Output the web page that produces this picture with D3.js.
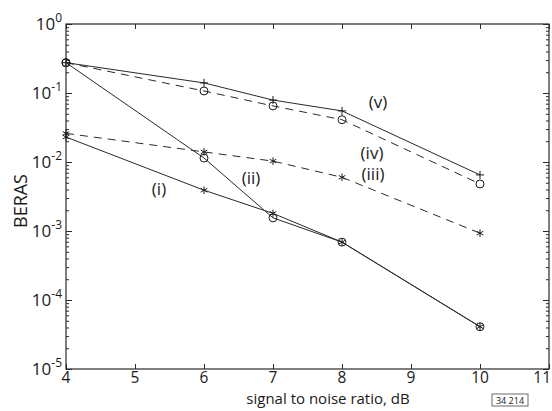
<!DOCTYPE html>
<html>
<head>
<meta charset="utf-8">
<script src="https://cdn.jsdelivr.net/npm/d3@7"></script>
<style>
  body { margin: 0; background: #fff; }
  svg { display: block; }
  text { font-family: "Open Sans", "DejaVu Sans", sans-serif; fill: #1a1a1a; }
  .line { fill: none; stroke: #2a2a2a; stroke-width: 1; }
  .dashed { stroke-dasharray: 8 6; }
  .mark { fill: none; stroke: #1a1a1a; stroke-width: 1; }
</style>
</head>
<body>
<svg id="chart"></svg>
<script>
const snr = [4, 6, 7, 8, 10];

const curveV = [0.275, 0.14, 0.079, 0.055, 0.0065];
const curveIV = [0.275, 0.107, 0.065, 0.041, 0.0048];
const curveIII = [0.026, 0.014, 0.0103, 0.006, 0.00093];
const curveII = [0.275, 0.0114, 0.00155, 0.00069, 0.000041];
const curveI = [0.023, 0.0039, 0.0018, 0.00069, 0.000041];

const xTicks = [4, 5, 6, 7, 8, 9, 10, 11];
const yExponents = [0, -1, -2, -3, -4, -5];

const width = 552;
const height = 411;
const plotLeft = 66, plotRight = 549, plotTop = 24, plotBottom = 369;

const svg = d3.select('#chart')
  .attr('width', width)
  .attr('height', height);

const x = d3.scaleLinear().domain([4, 11]).range([plotLeft, plotRight]);
const y = d3.scaleLog().domain([1e-5, 1]).range([plotBottom, plotTop]);

// frame
svg.append('rect')
  .attr('x', plotLeft).attr('y', plotTop)
  .attr('width', plotRight - plotLeft).attr('height', plotBottom - plotTop)
  .attr('fill', 'none').attr('stroke', '#2a2a2a').attr('stroke-width', 1.2);

// ticks pointing inward on all sides
const minorY = [];
yExponents.slice(0, -1).forEach(e => {
  for (let k = 2; k <= 9; k++) minorY.push(k * Math.pow(10, e - 1));
});

svg.append('g')
  .attr('transform', `translate(0,${plotBottom})`)
  .call(d3.axisBottom(x).tickValues(xTicks).tickSize(-5).tickFormat(''))
  .call(g => g.select('.domain').remove());
svg.append('g')
  .attr('transform', `translate(0,${plotTop})`)
  .call(d3.axisTop(x).tickValues(xTicks).tickSize(-5).tickFormat(''))
  .call(g => g.select('.domain').remove());
[[d3.axisLeft, plotLeft], [d3.axisRight, plotRight]].forEach(([axis, pos]) => {
  svg.append('g')
    .attr('transform', `translate(${pos},0)`)
    .call(axis(y).tickValues(yExponents.map(e => Math.pow(10, e))).tickSize(-6).tickFormat(''))
    .call(g => g.select('.domain').remove());
  svg.append('g')
    .attr('transform', `translate(${pos},0)`)
    .call(axis(y).tickValues(minorY).tickSize(-3).tickFormat(''))
    .call(g => g.select('.domain').remove());
});
svg.selectAll('.tick line').attr('stroke', '#2a2a2a');

// tick labels
svg.append('g').selectAll('text')
  .data(xTicks)
  .join('text')
  .attr('x', d => d === 11 ? plotRight + 2 : x(d))
  .attr('y', 383)
  .attr('text-anchor', d => d === 11 ? 'end' : 'middle')
  .attr('font-size', 15.5)
  .text(d => d);

const yLabels = svg.append('g').selectAll('text')
  .data(yExponents)
  .join('text')
  .attr('x', 62)
  .attr('y', d => y(Math.pow(10, d)) + 6)
  .attr('text-anchor', 'end')
  .attr('font-size', 17);
yLabels.append('tspan').text('10');
yLabels.append('tspan')
  .attr('dy', -8)
  .attr('font-size', 12)
  .text(d => d);

// axis titles
svg.append('text')
  .attr('x', 328).attr('y', 404)
  .attr('text-anchor', 'middle')
  .attr('font-size', 15)
  .text('signal to noise ratio, dB');

svg.append('text')
  .attr('transform', 'translate(27,201) rotate(-90)')
  .attr('text-anchor', 'middle')
  .attr('font-size', 18)
  .text('BERAS');

// figure number box
svg.append('rect')
  .attr('x', 492).attr('y', 394).attr('width', 36).attr('height', 12)
  .attr('fill', 'none').attr('stroke', '#444').attr('stroke-width', 0.8);
svg.append('text')
  .attr('x', 510).attr('y', 403.5)
  .attr('text-anchor', 'middle')
  .attr('font-size', 9)
  .text('34 214');

// curves
const series = [
  { name: '(v)', values: curveV, dashed: false, symbol: d3.symbolPlus, size: 24, lx: 378, ly: 108 },
  { name: '(iv)', values: curveIV, dashed: true, symbol: d3.symbolCircle, size: 50, lx: 372, ly: 159 },
  { name: '(iii)', values: curveIII, dashed: true, symbol: d3.symbolAsterisk, size: 40, lx: 373, ly: 180 },
  { name: '(ii)', values: curveII, dashed: false, symbol: d3.symbolCircle, size: 50, lx: 251, ly: 184 },
  { name: '(i)', values: curveI, dashed: false, symbol: d3.symbolAsterisk, size: 40, lx: 159, ly: 195 },
];

const line = d3.line()
  .x((d, i) => x(snr[i]))
  .y(d => y(d));

series.forEach(s => {
  svg.append('path')
    .datum(s.values)
    .attr('class', s.dashed ? 'line dashed' : 'line')
    .attr('d', line);

  svg.append('g').selectAll('path')
    .data(s.values)
    .join('path')
    .attr('class', 'mark')
    .attr('transform', (d, i) => `translate(${x(snr[i])},${y(d)})`)
    .attr('d', d3.symbol(s.symbol, s.size));

  svg.append('text')
    .attr('x', s.lx).attr('y', s.ly)
    .attr('text-anchor', 'middle')
    .attr('font-size', 17)
    .text(s.name);
});
</script>
</body>
</html>
